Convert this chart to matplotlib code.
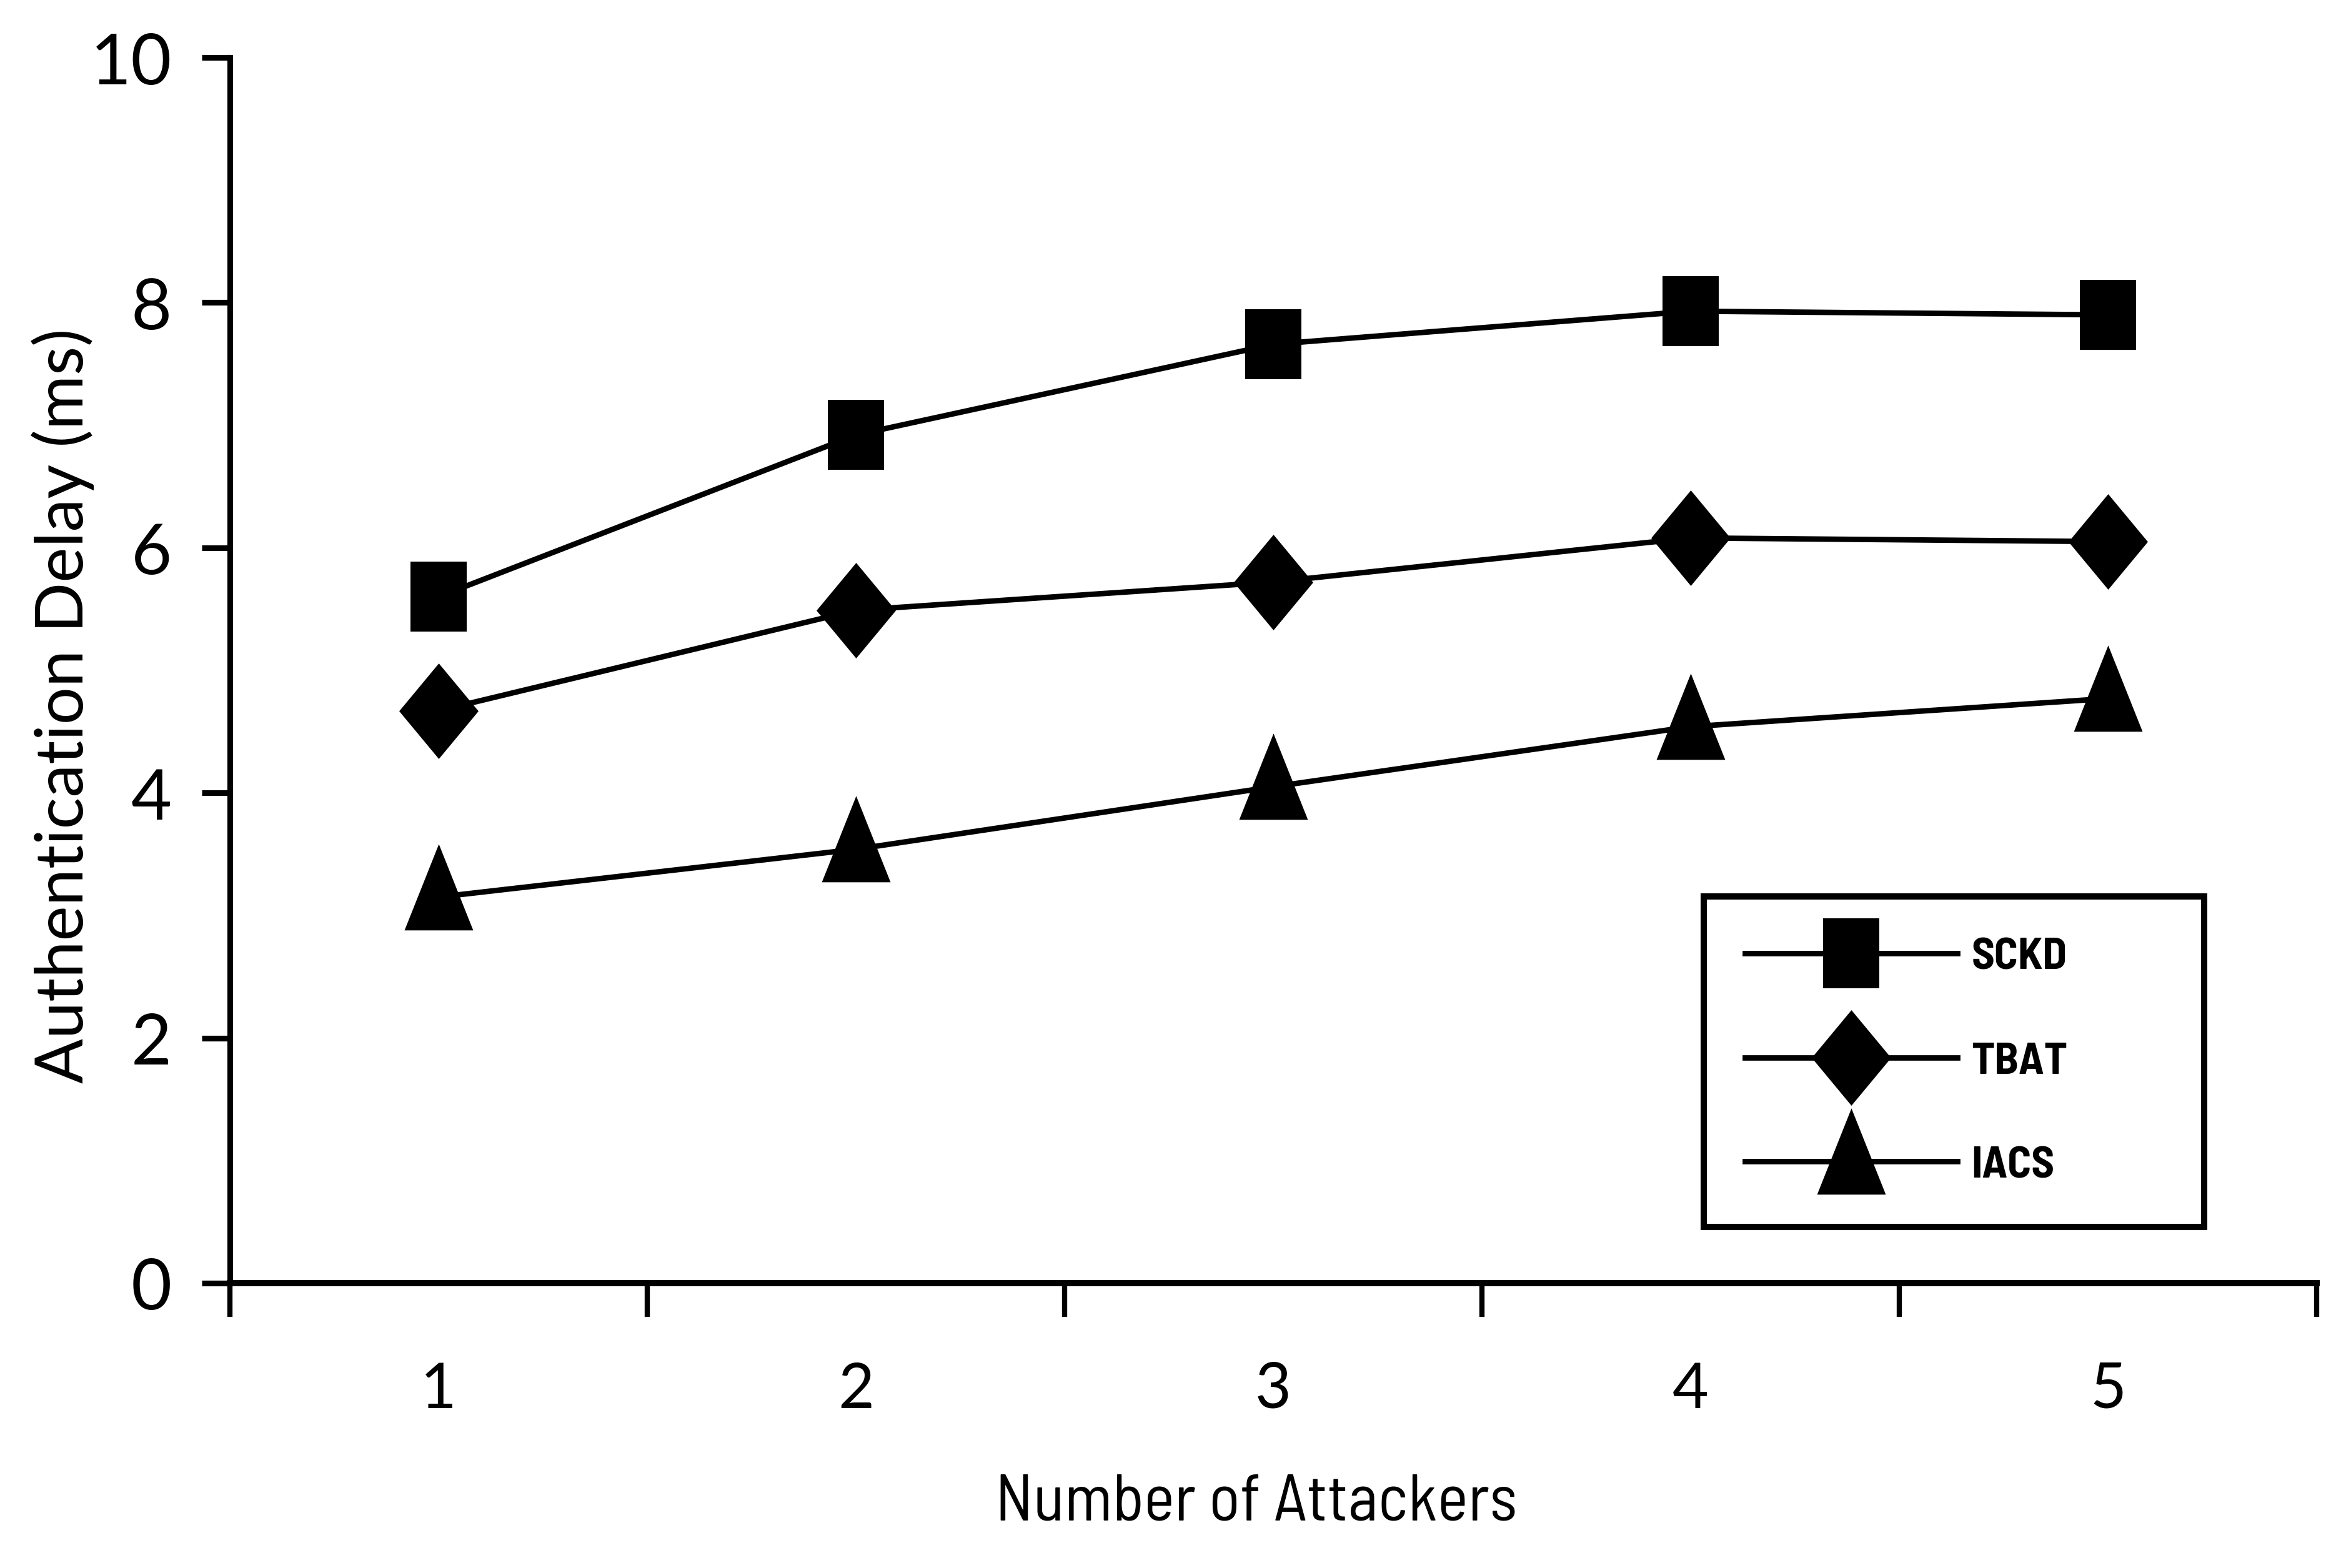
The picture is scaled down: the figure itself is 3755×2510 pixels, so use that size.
import matplotlib
matplotlib.use('Agg')
import matplotlib.pyplot as plt

# ---- data ----
attackers = [1, 2, 3, 4, 5]
x_labels = ['1', '2', '3', '4', '5']
sckd = [5.60, 6.92, 7.66, 7.93, 7.90]
tbat = [4.67, 5.49, 5.72, 6.08, 6.05]
iacs = [3.15, 3.54, 4.05, 4.54, 4.77]
series_names = ['SCKD', 'TBAT', 'IACS']
y_ticks = [0, 2, 4, 6, 8, 10]

plt.rcParams['font.family'] = ['Lato', 'DejaVu Sans']
condensed = ['Barlow Semi Condensed', 'Lato', 'DejaVu Sans']

W, H, DPI = 3755, 2511, 300
fig = plt.figure(figsize=(W / DPI, H / DPI), dpi=DPI)
ax = fig.add_axes([368 / W, 1 - 2055 / H, (3708 - 368) / W, (2055 - 93) / H])

square = [(-0.8, -1), (0.8, -1), (0.8, 1), (-0.8, 1), (-0.8, -1)]
diamond = [(0, 1), (0.83, 0), (0, -1), (-0.83, 0), (0, 1)]
triangle = [(0, 1), (0.645, -0.62), (-0.645, -0.62), (0, 1)]

styles = [(sckd, square, 26.9), (tbat, diamond, 36.7), (iacs, triangle, 40.9)]
for (vals, mk, ms), name in zip(styles, series_names):
    ax.plot(attackers, vals, color='black', lw=2.1, marker=mk, ms=ms,
            mew=0, mfc='black', label=name, clip_on=False)

ax.set_xlim(attackers[0] - 0.5, attackers[-1] + 0.5)
ax.set_ylim(y_ticks[0], y_ticks[-1])

for s in ['top', 'right']:
    ax.spines[s].set_visible(False)
ax.spines['left'].set_linewidth(2.2)
ax.spines['bottom'].set_linewidth(2.4)

boundaries = [a - 0.5 for a in attackers] + [attackers[-1] + 0.5]
ax.set_xticks(boundaries)
ax.tick_params(axis='x', which='major', length=13, width=2.0, direction='out',
               labelbottom=False)
ax.set_xticks(attackers, minor=True)
ax.set_xticklabels(x_labels, minor=True)
ax.tick_params(axis='x', which='minor', length=0, pad=30, labelsize=24)

ax.set_yticks(y_ticks)
ax.set_yticklabels([str(t) for t in y_ticks])
ax.tick_params(axis='y', length=10.8, width=2.2, pad=11.5, labelsize=27)

ax.set_xlabel('Number of Attackers', fontsize=25, family=condensed)
ax.xaxis.label.set_va('center')
ax.xaxis.set_label_coords(0.492, -0.179)
ax.set_ylabel('Authentication Delay (ms)', fontsize=25.5)
ax.yaxis.label.set_va('center')
ax.yaxis.set_label_coords(-0.0802, 0.4715)

leg = ax.legend(loc='upper left',
                bbox_to_anchor=(0.7063, 0.0469, 0.9461 - 0.7063, 0.3155 - 0.0469),
                mode='expand', borderaxespad=0, frameon=True, fancybox=False,
                edgecolor='black', framealpha=1,
                prop={'weight': 'bold', 'size': 17, 'family': condensed},
                handlelength=4.8, handletextpad=0.32, labelspacing=1.45,
                borderpad=0.93)
leg.get_frame().set_linewidth(2.4)

fig.savefig('out.png', dpi=DPI)
